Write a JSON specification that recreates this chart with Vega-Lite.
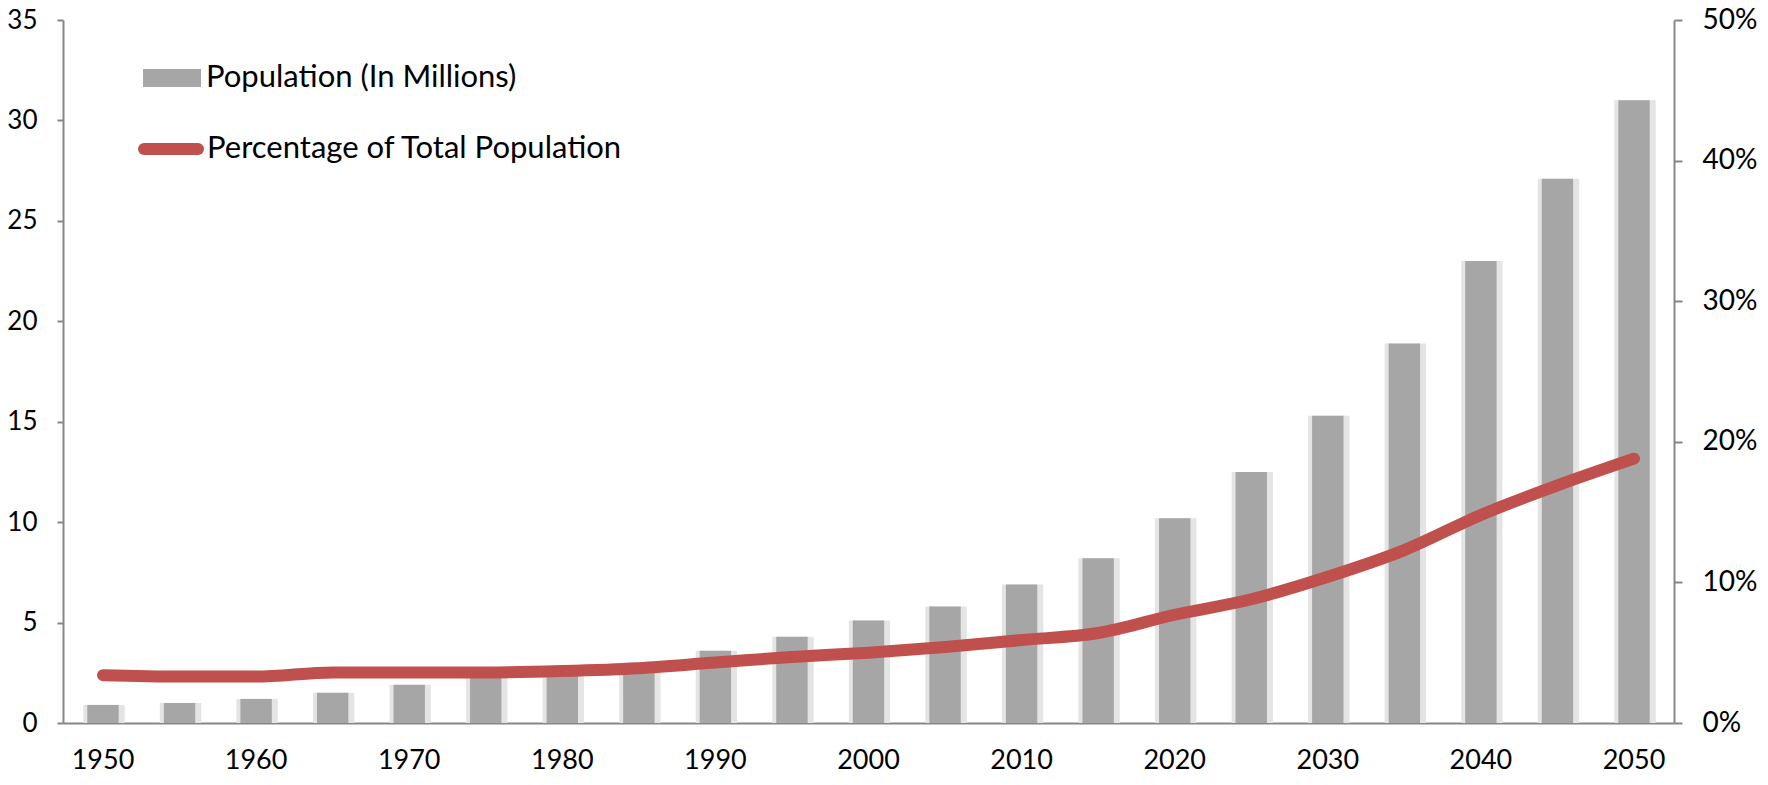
{
  "$schema": "https://vega.github.io/schema/vega-lite/v6.json",
  "width": 1611,
  "height": 703,
  "autosize": {"type": "none"},
  "padding": {"left": 63, "top": 20, "right": 94, "bottom": 62},
  "background": "white",
  "config": {
    "view": {"stroke": null},
    "font": "Lato",
    "axis": {"grid": false, "labelFont": "Lato", "labelColor": "#000000", "domainColor": "#878787", "tickColor": "#878787", "domainWidth": 2, "tickWidth": 2, "title": null},
    "legend": {"labelFont": "Lato", "labelColor": "#000000", "padding": 0, "labelLimit": 600}
  },
  "data": {
    "values": [
      {"year": 1950, "pop": 0.9, "pct": 0.034},
      {"year": 1955, "pop": 1.0, "pct": 0.033},
      {"year": 1960, "pop": 1.2, "pct": 0.033},
      {"year": 1965, "pop": 1.5, "pct": 0.036},
      {"year": 1970, "pop": 1.9, "pct": 0.036},
      {"year": 1975, "pop": 2.3, "pct": 0.036},
      {"year": 1980, "pop": 2.6, "pct": 0.037},
      {"year": 1985, "pop": 3.0, "pct": 0.039},
      {"year": 1990, "pop": 3.6, "pct": 0.043},
      {"year": 1995, "pop": 4.3, "pct": 0.047},
      {"year": 2000, "pop": 5.1, "pct": 0.050},
      {"year": 2005, "pop": 5.8, "pct": 0.054},
      {"year": 2010, "pop": 6.9, "pct": 0.059},
      {"year": 2015, "pop": 8.2, "pct": 0.064},
      {"year": 2020, "pop": 10.2, "pct": 0.077},
      {"year": 2025, "pop": 12.5, "pct": 0.088},
      {"year": 2030, "pop": 15.3, "pct": 0.104},
      {"year": 2035, "pop": 18.9, "pct": 0.123},
      {"year": 2040, "pop": 23.0, "pct": 0.148},
      {"year": 2045, "pop": 27.1, "pct": 0.169},
      {"year": 2050, "pop": 31.0, "pct": 0.188}
    ]
  },
  "encoding": {
    "x": {
      "field": "year",
      "type": "ordinal",
      "scale": {"paddingInner": 0, "paddingOuter": 0.0225},
      "axis": {
        "values": [1950, 1960, 1970, 1980, 1990, 2000, 2010, 2020, 2030, 2040, 2050],
        "ticks": false,
        "labelAngle": 0,
        "labelFontSize": 27,
        "labelPadding": 24
      }
    }
  },
  "layer": [
    {
      "mark": {"type": "bar", "color": "#e4e4e4", "width": {"band": 0.54}, "xOffset": 1},
      "encoding": {
        "y": {"field": "pop", "type": "quantitative", "scale": {"domain": [0, 35]}, "axis": null}
      }
    },
    {
      "mark": {"type": "bar", "width": {"band": 0.41}},
      "encoding": {
        "y": {
          "field": "pop",
          "type": "quantitative",
          "scale": {"domain": [0, 35]},
          "axis": {"orient": "left", "values": [0, 5, 10, 15, 20, 25, 30, 35], "tickSize": 6, "labelFontSize": 26, "labelPadding": 20}
        },
        "color": {
          "datum": "Population (In Millions)",
          "scale": {"range": ["#A6A6A6"]},
          "legend": {
            "orient": "none",
            "legendX": 80,
            "legendY": 29,
            "title": null,
            "symbolType": "M-1,-0.31H1V0.31H-1Z",
            "symbolSize": 3364,
            "symbolStrokeWidth": 0,
            "labelFontSize": 31,
            "labelOffset": 5
          }
        }
      }
    },
    {
      "mark": {"type": "line", "strokeWidth": 12, "strokeCap": "round", "strokeJoin": "round", "interpolate": "monotone"},
      "encoding": {
        "y": {
          "field": "pct",
          "type": "quantitative",
          "scale": {"domain": [0, 0.5]},
          "axis": {"orient": "right", "format": ".0%", "values": [0, 0.1, 0.2, 0.3, 0.4, 0.5], "tickSize": 8, "labelFontSize": 28, "labelPadding": 20}
        },
        "stroke": {
          "datum": "Percentage of Total Population",
          "scale": {"range": ["#C0504D"]},
          "legend": {
            "orient": "none",
            "legendX": 75,
            "legendY": 96,
            "title": null,
            "symbolType": "stroke",
            "symbolSize": 2916,
            "symbolStrokeWidth": 12,
            "labelFontSize": 31,
            "labelOffset": 3,
            "symbolStrokeColor": "#C0504D",
            "encode": {"symbols": {"update": {"strokeCap": {"value": "round"}, "stroke": {"value": "#C0504D"}, "strokeWidth": {"value": 12}}}}
          }
        }
      }
    }
  ],
  "resolve": {"scale": {"y": "independent", "color": "independent", "stroke": "independent"}}
}
